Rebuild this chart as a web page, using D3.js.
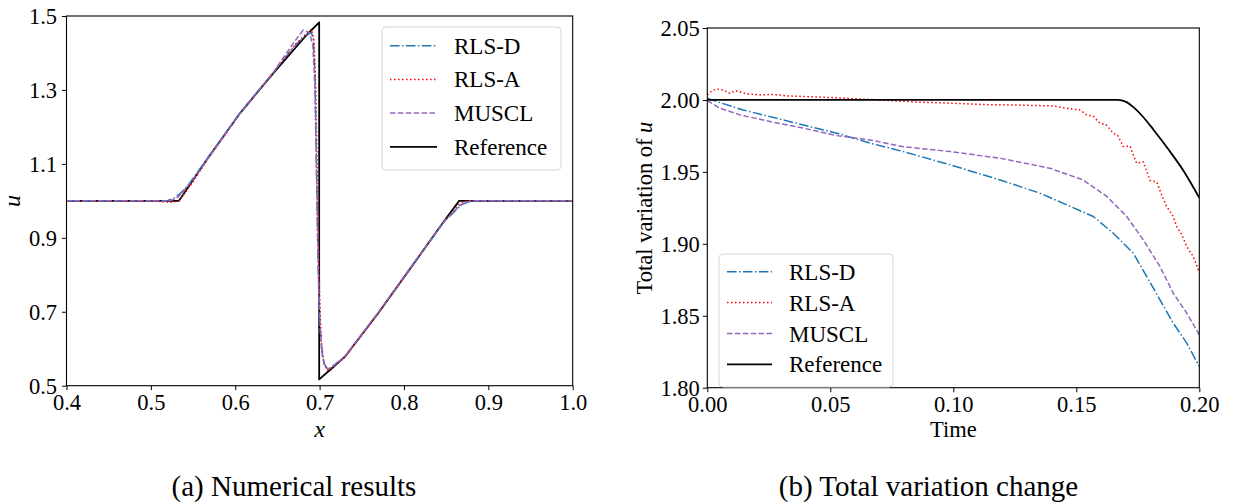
<!DOCTYPE html>
<html><head><meta charset="utf-8">
<script src="https://cdn.jsdelivr.net/npm/d3@7"></script>
<style>
body{margin:0;background:#fff;}
text{font-family:"Liberation Serif","Times New Roman",serif;fill:#000;}
</style></head>
<body><svg id="c" width="1233" height="502"></svg>
<script>
// ---- Panel (a) data ----
const refX = [0.4, 0.5333, 0.566, 0.6056, 0.645, 0.6846, 0.6995, 0.6995, 0.715, 0.730, 0.7694, 0.809, 0.8485, 0.8654, 1.0];
const refU = [1.0, 1.0, 1.1105, 1.2367, 1.345, 1.4486, 1.483, 0.517, 0.548, 0.5785, 0.696, 0.822, 0.948, 1.0, 1.0];
const rlsdX = [0.4, 0.51, 0.52, 0.528, 0.535, 0.545, 0.566, 0.6056, 0.645, 0.672, 0.684, 0.690, 0.6925, 0.6945, 0.6958, 0.697, 0.6985, 0.700, 0.7025, 0.7055, 0.709, 0.714, 0.730, 0.7694, 0.809, 0.8485, 0.856, 0.862, 0.868, 0.876, 0.885, 1.0];
const rlsdU = [1, 1, 1.001, 1.008, 1.02, 1.045, 1.112, 1.238, 1.347, 1.423, 1.448, 1.455, 1.44, 1.34, 1.16, 0.98, 0.80, 0.68, 0.60, 0.56, 0.545, 0.55, 0.578, 0.696, 0.822, 0.946, 0.962, 0.976, 0.989, 0.997, 1.0, 1.0];
const rlsaX = [0.4, 0.505, 0.515, 0.525, 0.533, 0.540, 0.55, 0.566, 0.6056, 0.645, 0.672, 0.684, 0.6905, 0.6935, 0.6955, 0.697, 0.6985, 0.7, 0.702, 0.705, 0.709, 0.714, 0.730, 0.7694, 0.809, 0.8485, 0.858, 0.865, 0.872, 0.88, 1.0];
const rlsaU = [1, 1, 0.997, 0.996, 1.0, 1.02, 1.052, 1.108, 1.236, 1.346, 1.425, 1.452, 1.464, 1.43, 1.3, 1.1, 0.9, 0.74, 0.62, 0.56, 0.542, 0.548, 0.577, 0.695, 0.822, 0.948, 0.97, 0.99, 0.999, 1.0, 1.0];
const musclX = [0.4, 0.505, 0.515, 0.525, 0.532, 0.54, 0.55, 0.566, 0.6056, 0.645, 0.670, 0.6806, 0.688, 0.692, 0.6945, 0.696, 0.6975, 0.699, 0.701, 0.7035, 0.707, 0.711, 0.716, 0.730, 0.7694, 0.809, 0.8485, 0.857, 0.864, 0.871, 0.88, 1.0];
const musclU = [1, 1, 0.999, 1.002, 1.01, 1.03, 1.058, 1.11, 1.237, 1.347, 1.43, 1.462, 1.455, 1.42, 1.3, 1.12, 0.93, 0.76, 0.64, 0.575, 0.55, 0.545, 0.553, 0.58, 0.698, 0.824, 0.946, 0.966, 0.983, 0.995, 1.0, 1.0];
const xTicksA = [0.4, 0.5, 0.6, 0.7, 0.8, 0.9, 1.0];
const yTicksA = [0.5, 0.7, 0.9, 1.1, 1.3, 1.5];

// ---- Panel (b) data ----
const tvRefT = [0, 0.167, 0.170, 0.1732, 0.177, 0.1813, 0.1875, 0.1935, 0.2];
const tvRefV = [2, 2, 1.9988, 1.995, 1.9885, 1.9795, 1.9655, 1.951, 1.932];
const tvDT = [0, 0.0052, 0.0146, 0.0255, 0.039, 0.0526, 0.0661, 0.0797, 0.0987, 0.119, 0.1352, 0.1461, 0.1569, 0.165, 0.1732, 0.1786, 0.184, 0.1894, 0.1949, 0.2];
const tvDV = [2.0012, 1.9981, 1.993, 1.9884, 1.9826, 1.9769, 1.970, 1.9641, 1.9549, 1.9444, 1.9352, 1.9271, 1.919, 1.9074, 1.8935, 1.8773, 1.8611, 1.8449, 1.831, 1.8148];
const tvAT = [0, 0.002, 0.0038, 0.0065, 0.0092, 0.0113, 0.013, 0.016, 0.0214, 0.027, 0.0323, 0.0404, 0.05, 0.0593, 0.07, 0.0865, 0.10, 0.1136, 0.125, 0.1407, 0.1461, 0.1515, 0.1542, 0.157, 0.1596, 0.162, 0.165, 0.167, 0.1691, 0.1718, 0.1745, 0.1772, 0.18, 0.1827, 0.1854, 0.1867, 0.1894, 0.1908, 0.193, 0.1949, 0.1976, 0.2];
const tvAV = [2.0035, 2.0065, 2.0076, 2.0069, 2.0046, 2.0064, 2.0058, 2.0042, 2.0035, 2.0038, 2.0028, 2.0023, 2.0017, 2.0009, 2.0, 1.9984, 1.9977, 1.9967, 1.9965, 1.9958, 1.9942, 1.993, 1.9896, 1.9885, 1.9838, 1.983, 1.9769, 1.975, 1.9676, 1.968, 1.956, 1.957, 1.944, 1.943, 1.931, 1.926, 1.919, 1.912, 1.906, 1.898, 1.891, 1.88];
const tvMT = [0, 0.0052, 0.0133, 0.0255, 0.039, 0.0526, 0.0661, 0.0797, 0.0987, 0.119, 0.1393, 0.1528, 0.1624, 0.1705, 0.1772, 0.184, 0.1894, 0.1949, 0.2];
const tvMV = [1.9995, 1.9942, 1.9896, 1.985, 1.9804, 1.9752, 1.9722, 1.9675, 1.9641, 1.9595, 1.9525, 1.9444, 1.9329, 1.919, 1.9028, 1.8843, 1.8657, 1.8519, 1.8368];
const xTicksB = [0, 0.05, 0.10, 0.15, 0.20];
const yTicksB = [1.80, 1.85, 1.90, 1.95, 2.00, 2.05];

const seriesNames = ["RLS-D", "RLS-A", "MUSCL", "Reference"];
const styles = {
  "RLS-D": {color:"#1f77b4", dash:"9.6,2.4,1.5,2.4", w:1.5},
  "RLS-A": {color:"#ff0000", dash:"1.5,2.5", w:1.5},
  "MUSCL": {color:"#9467bd", dash:"5.5,2.4", w:1.5},
  "Reference": {color:"#000", dash:null, w:1.8}
};

const svg = d3.select("#c");
const zip = (a,b) => a.map((v,i)=>[v,b[i]]);

function panel(opt){
  const g = svg.append("g");
  const x = d3.scaleLinear().domain(opt.xd).range([opt.x0, opt.x1]);
  const y = d3.scaleLinear().domain(opt.yd).range([opt.y1, opt.y0]);
  const cid = "clip"+opt.id;
  svg.append("defs").append("clipPath").attr("id",cid).append("rect")
    .attr("x",opt.x0).attr("y",opt.y0).attr("width",opt.x1-opt.x0).attr("height",opt.y1-opt.y0);
  const lg = g.append("g").attr("clip-path",`url(#${cid})`);
  opt.series.forEach(s=>{
    const st = styles[s.name];
    const line = d3.line().x(d=>x(d[0])).y(d=>y(d[1])).curve(s.curve || d3.curveLinear);
    lg.append("path").datum(zip(s.x,s.y)).attr("d",line)
      .attr("fill","none").attr("stroke",st.color).attr("stroke-width",st.w)
      .attr("stroke-dasharray",st.dash).attr("stroke-linejoin","round");
  });
  // axes
  const xa = d3.axisBottom(x).tickValues(opt.xt).tickFormat(opt.xf).tickSize(4.5).tickPadding(3);
  const ya = d3.axisLeft(y).tickValues(opt.yt).tickFormat(opt.yf).tickSize(4.5).tickPadding(opt.ypad);
  const gx = g.append("g").attr("transform",`translate(0,${opt.y1})`).call(xa);
  const gy = g.append("g").attr("transform",`translate(${opt.x0},0)`).call(ya);
  [gx,gy].forEach(a=>{
    a.select(".domain").remove();
    a.selectAll("line").attr("stroke","#000").attr("stroke-width",1);
    a.selectAll("text").attr("font-size","22.5px").attr("font-family","Liberation Serif, serif").attr("fill","#000");
  });
  gx.selectAll("text").attr("dy","0.74em");
  gy.selectAll("text").attr("dy","0.34em");
  // frame
  g.append("rect").attr("x",opt.x0).attr("y",opt.y0).attr("width",opt.x1-opt.x0).attr("height",opt.y1-opt.y0)
    .attr("fill","none").attr("stroke","#000").attr("stroke-width",1.1);
  // legend
  const L = opt.leg;
  const lgd = g.append("g");
  lgd.append("rect").attr("x",L.x).attr("y",L.y).attr("width",L.w).attr("height",L.h)
    .attr("rx",4).attr("fill","#fff").attr("fill-opacity",0.85).attr("stroke","#d6d6d6").attr("stroke-width",1);
  seriesNames.forEach((n,i)=>{
    const st = styles[n];
    const yy = L.y + L.first + i*L.step;
    lgd.append("line").attr("x1",L.lx0).attr("x2",L.lx1).attr("y1",yy).attr("y2",yy)
      .attr("stroke",st.color).attr("stroke-width",st.w).attr("stroke-dasharray",st.dash);
    lgd.append("text").attr("x",L.tx).attr("y",yy).attr("dy","0.35em").attr("font-size","23px").text(n);
  });
  return {g,x,y};
}

const fA = d => d3.format(".1f")(d);
const fB = d => d3.format(".2f")(d);

const A = panel({id:"a", xd:[0.4,1.0], yd:[0.5,1.5], x0:66.5, x1:572.7, y0:16, y1:385.7,
  xt:xTicksA, yt:yTicksA, xf:fA, yf:fA, ypad:5,
  series:[{name:"Reference",x:refX,y:refU},{name:"RLS-D",x:rlsdX,y:rlsdU},{name:"RLS-A",x:rlsaX,y:rlsaU},{name:"MUSCL",x:musclX,y:musclU}],
  leg:{x:382,y:27,w:179,h:143,first:18.7,step:33.7,lx0:390,lx1:437,tx:454}});

const B = panel({id:"b", xd:[0,0.2], yd:[1.8,2.05], x0:707.3, x1:1199.3, y0:28, y1:387.7,
  xt:xTicksB, yt:yTicksB, xf:fB, yf:fB, ypad:3,
  series:[{name:"RLS-D",x:tvDT,y:tvDV},{name:"RLS-A",x:tvAT,y:tvAV},{name:"MUSCL",x:tvMT,y:tvMV},{name:"Reference",x:tvRefT,y:tvRefV,curve:d3.curveMonotoneX}],
  leg:{x:719,y:254,w:174,h:133,first:17.7,step:30.9,lx0:727,lx1:772,tx:789}});

// axis labels
svg.append("text").attr("x",319.6).attr("y",437).attr("text-anchor","middle").attr("font-size","24px").attr("font-style","italic").text("x");
svg.append("text").attr("transform","translate(20,201) rotate(-90)").attr("text-anchor","middle").attr("font-size","24px").attr("font-style","italic").text("u");
svg.append("text").attr("x",953.3).attr("y",437).attr("text-anchor","middle").attr("font-size","22.5px").text("Time");
const yl = svg.append("text").attr("transform","translate(652,208) rotate(-90)").attr("text-anchor","middle").attr("font-size","22.5px");
yl.append("tspan").text("Total variation of ");
yl.append("tspan").attr("font-style","italic").text("u");

// captions
svg.append("text").attr("x",294).attr("y",496).attr("text-anchor","middle").attr("font-size","29px").text("(a) Numerical results");
svg.append("text").attr("x",928.5).attr("y",496).attr("text-anchor","middle").attr("font-size","29px").text("(b) Total variation change");
</script></body></html>
